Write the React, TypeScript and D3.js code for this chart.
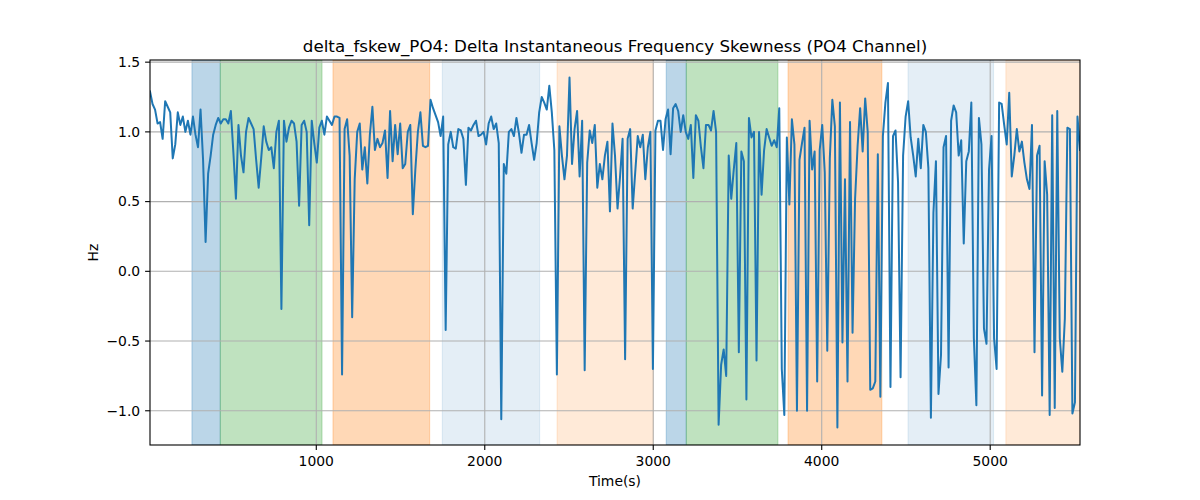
import React from "react";
import * as d3 from "d3";

// Sampling of the series (seconds)
const T0 = 13;
const DT = 15;

// delta_fskew_PO4 values, one per sample
const values: number[] = [
  1.29, 1.2, 1.16, 1.06, 1.07, 0.95, 1.22, 1.18, 1.14, 0.81,
  0.91, 1.14, 1.05, 1.11, 1.0, 1.08, 0.98, 1.11, 0.98, 0.89,
  1.16, 0.8, 0.21, 0.7, 0.83, 0.98, 1.05, 1.1, 1.06, 1.09,
  1.09, 1.06, 1.15, 0.85, 0.52, 1.05, 0.83, 0.71, 1.0, 1.1,
  1.06, 1.02, 0.8, 0.6, 0.81, 1.04, 0.93, 0.87, 0.89, 0.74,
  1.0, 1.08, -0.27, 1.08, 0.93, 1.03, 1.08, 1.06, 0.93, 0.47,
  1.05, 1.08, 1.0, 0.33, 1.08, 0.92, 0.78, 1.03, 1.08, 0.98,
  1.11, 1.08, 1.05, 1.11, 1.11, 1.1, -0.74, 1.02, 1.09, 0.83,
  -0.33, 0.66, 1.0, 1.06, 0.73, 0.89, 0.63, 0.98, 1.18, 0.87,
  0.95, 0.89, 0.92, 1.01, 0.67, 1.15, 0.79, 1.05, 0.84, 1.06,
  0.74, 0.77, 1.0, 1.05, 0.41, 0.73, 1.0, 1.14, 0.9, 0.89,
  0.9, 1.23, 1.17, 1.12, 1.07, 0.97, 1.11, -0.42, 0.91, 1.0,
  0.89, 0.88, 1.02, 1.01, 0.95, 0.62, 1.03, 1.01, 1.05, 1.08,
  0.97, 0.98, 1.0, 0.91, 1.06, 1.11, 1.02, 1.06, 0.92, -1.06,
  0.77, 0.7, 1.0, 1.02, 0.97, 1.1, 0.99, 0.85, 0.98, 0.98,
  1.05, 0.92, 0.8, 0.92, 1.14, 1.25, 1.21, 1.16, 1.33, 1.14,
  0.87, -0.74, 1.04, 0.83, 0.66, 0.83, 1.39, 0.77, 1.02, 1.15,
  0.68, 1.08, -0.71, 0.78, 1.01, 0.92, 1.05, 0.6, 0.77, 0.66,
  0.83, 0.93, 0.43, 1.06, 0.83, 0.45, 0.68, 0.95, -0.63, 0.95,
  1.02, 0.45, 0.71, 0.97, 0.89, 0.98, 0.66, 0.89, 1.0, -0.7,
  1.01, 1.08, 1.08, 0.87, 1.09, 1.16, 0.84, 1.17, 1.2, 1.15,
  1.0, 1.12, 1.0, 0.95, 1.05, 0.67, 1.12, 1.08, 0.89, 0.74,
  1.05, 1.05, 1.01, 1.15, 1.0, -1.1, -0.67, -0.56, -0.75, 0.83,
  0.52, 0.73, 0.92, -0.58, 0.86, 0.79, -0.92, 1.1, 0.96, 1.0,
  -0.64, 1.0, 0.55, 0.87, 1.02, 0.96, 0.9, 0.94, 0.89, 1.17,
  -0.7, -1.03, 0.96, 0.48, 1.09, 0.91, -1.0, 0.8, 0.92, 1.03,
  -1.0, 1.08, 0.73, 0.86, -0.79, 0.87, 1.05, 0.71, -0.57, 0.81,
  1.23, 1.04, -1.12, 1.21, -0.51, 0.66, -0.79, 1.07, -0.44, 0.52,
  0.9, 1.17, 0.86, 1.24, 1.0, -0.85, -0.84, -0.79, 0.84, -0.9,
  0.97, 1.21, 1.35, -0.83, 0.97, 1.01, 0.64, -0.76, 0.83, 1.11,
  1.22, 0.96, 0.83, 0.68, 0.95, 0.74, 1.05, 1.0, 0.74, -1.05,
  0.42, 0.79, -0.88, -0.6, 0.89, 0.97, -0.69, 1.08, 1.19, 1.14,
  0.83, 0.94, 0.2, 0.79, 0.86, 1.21, -0.48, -0.96, 1.1, 0.91,
  -0.41, -0.52, 0.73, 0.97, -0.48, -0.7, 1.21, 1.2, 1.05, 0.91,
  1.28, 0.68, 0.83, 1.02, 0.86, 0.93, 0.78, 0.66, 0.59, 1.05,
  -0.58, 0.83, 0.9, -0.89, 0.79, 0.55, -1.03, 1.12, -0.98, 1.15,
  -0.48, -0.72, -0.34, 1.03, 1.02, -1.02, -0.94, 1.11, 0.87,
];

// Shaded phases: start, end (s), colour, opacity
const bandStarts = [262, 430, 1099, 1748, 2429, 3077, 3196, 3800, 4512, 5093];
const bandEnds = [430, 1034, 1673, 2326, 3000, 3196, 3740, 4357, 5020, 5535];
const bandColors = ["#1f77b4", "#2ca02c", "#ff7f0e", "#1f77b4", "#ff7f0e", "#1f77b4", "#2ca02c", "#ff7f0e", "#1f77b4", "#ff7f0e"];
const bandAlphas = [0.3, 0.3, 0.3, 0.12, 0.16, 0.3, 0.3, 0.3, 0.12, 0.16];

const xTicks = [1000, 2000, 3000, 4000, 5000];
const yTicks = [-1.0, -0.5, 0.0, 0.5, 1.0, 1.5];

const TITLE = "delta_fskew_PO4: Delta Instantaneous Frequency Skewness (PO4 Channel)";
const XLABEL = "Time(s)";
const YLABEL = "Hz";

export default function App() {
  const W = 1200, H = 500;
  const left = 150, right = 1080, top = 60, bottom = 445;
  const pts = values.map((v, i) => ({ t: T0 + i * DT, v }));
  const tMin = pts[0].t, tMax = pts[pts.length - 1].t;
  const vMin = d3.min(values)!, vMax = d3.max(values)!;
  const pad = (vMax - vMin) * 0.05;
  const x = d3.scaleLinear().domain([tMin, tMax]).range([left, right]);
  const y = d3.scaleLinear().domain([vMin - pad, vMax + pad]).range([bottom, top]);
  const line = d3.line<{ t: number; v: number }>().x(d => x(d.t)).y(d => y(d.v));
  const font = "DejaVu Sans, sans-serif";
  const fmtY = (v: number) => (v < 0 ? "\u2212" : "") + Math.abs(v).toFixed(1);

  return (
    <div style={{ position: "absolute", left: 0, top: 0 }}>
      <svg width={W} height={H} style={{ display: "block", background: "#fff" }}>
        <defs>
          <clipPath id="plotclip">
            <rect x={left} y={top} width={right - left} height={bottom - top} />
          </clipPath>
        </defs>
        <g clipPath="url(#plotclip)">
          {bandStarts.map((s, i) => (
            <rect key={i} x={x(s)} y={top} width={x(bandEnds[i]) - x(s)} height={bottom - top}
              fill={bandColors[i]} fillOpacity={bandAlphas[i]}
              stroke={bandColors[i]} strokeOpacity={bandAlphas[i]} strokeWidth={1} />
          ))}
          {xTicks.map(t => (
            <line key={"gx" + t} x1={x(t)} x2={x(t)} y1={top} y2={bottom} stroke="#b0b0b0" strokeWidth={1.1} />
          ))}
          {yTicks.map(v => (
            <line key={"gy" + v} x1={left} x2={right} y1={y(v)} y2={y(v)} stroke="#b0b0b0" strokeWidth={1.1} />
          ))}
          <path d={line(pts) || ""} fill="none" stroke="#1f77b4" strokeWidth={2} strokeLinejoin="round" strokeLinecap="square" />
        </g>
        <rect x={left} y={top} width={right - left} height={bottom - top} fill="none" stroke="#000" strokeWidth={1.1} />
        {xTicks.map(t => (
          <g key={"xt" + t}>
            <line x1={x(t)} x2={x(t)} y1={bottom} y2={bottom + 4.9} stroke="#000" strokeWidth={1.1} />
            <text x={x(t)} y={bottom + 21} textAnchor="middle" fontFamily={font} fontSize={13.9} fill="#000">{String(t)}</text>
          </g>
        ))}
        {yTicks.map(v => (
          <g key={"yt" + v}>
            <line x1={left - 4.9} x2={left} y1={y(v)} y2={y(v)} stroke="#000" strokeWidth={1.1} />
            <text x={left - 9.8} y={y(v)} dy="0.35em" textAnchor="end" fontFamily={font} fontSize={13.9} fill="#000">{fmtY(v)}</text>
          </g>
        ))}
        <text x={(left + right) / 2} y={486} textAnchor="middle" fontFamily={font} fontSize={13.9} fill="#000">{XLABEL}</text>
        <text transform={`translate(98,${(top + bottom) / 2}) rotate(-90)`} textAnchor="middle" fontFamily={font} fontSize={13.9} fill="#000">{YLABEL}</text>
        <text x={(left + right) / 2} y={52} textAnchor="middle" fontFamily={font} fontSize={16.7} fill="#000">{TITLE}</text>
      </svg>
    </div>
  );
}
